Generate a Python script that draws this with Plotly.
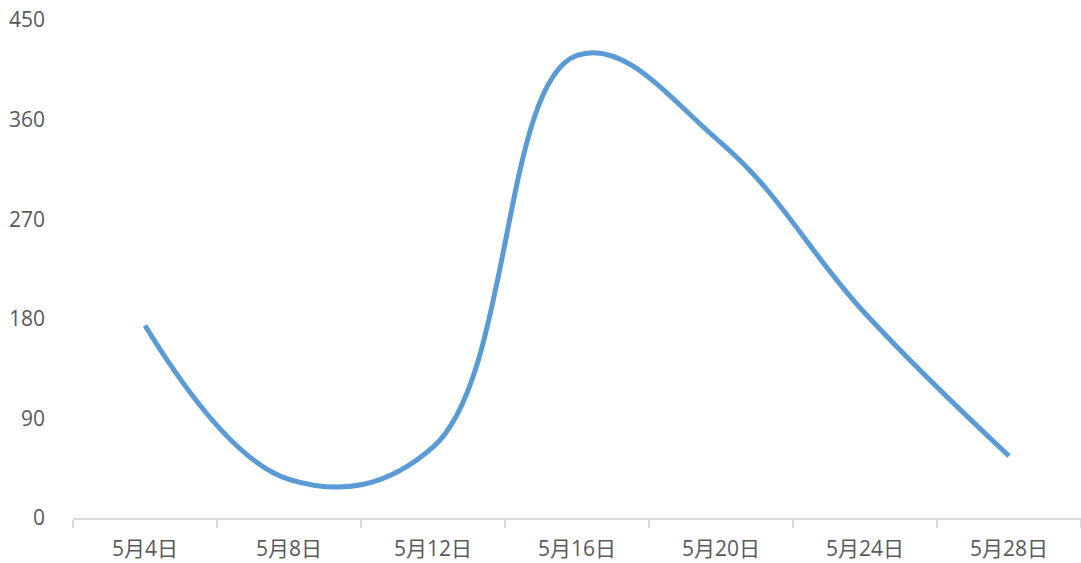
import plotly.graph_objects as go

# Daily series sampled every four days
dates = ["5月4日", "5月8日", "5月12日", "5月16日", "5月20日", "5月24日", "5月28日"]
values = [174, 35, 64, 418, 339, 185, 56]
y_ticks = [0, 90, 180, 270, 360, 450]

fig = go.Figure(
    go.Scatter(
        x=dates,
        y=values,
        mode="lines",
        line=dict(color="#5B9BD5", width=5, shape="spline", smoothing=1.15),
        hoverinfo="x+y",
    )
)

font_family = "Open Sans, Noto Sans CJK SC, sans-serif"

fig.update_layout(
    width=1081,
    height=563,
    margin=dict(l=73, r=0, t=20, b=45),
    paper_bgcolor="white",
    plot_bgcolor="white",
    showlegend=False,
    font=dict(family=font_family, size=21, color="#595959"),
)

fig.update_xaxes(
    type="category",
    range=[-0.5, len(dates) - 0.5],
    showline=True,
    linecolor="#D9D9D9",
    linewidth=2,
    ticks="outside",
    tickson="boundaries",
    ticklen=8,
    tickwidth=2,
    tickcolor="#D9D9D9",
    showgrid=False,
    zeroline=False,
    tickfont=dict(size=21, color="#595959"),
    ticklabelstandoff=11,
)

fig.update_yaxes(
    range=[0, 450],
    tickvals=y_ticks,
    showgrid=False,
    zeroline=False,
    showline=False,
    ticks="",
    tickfont=dict(size=21, color="#595959"),
    ticklabelstandoff=27,
)

fig.write_html("out.html")
